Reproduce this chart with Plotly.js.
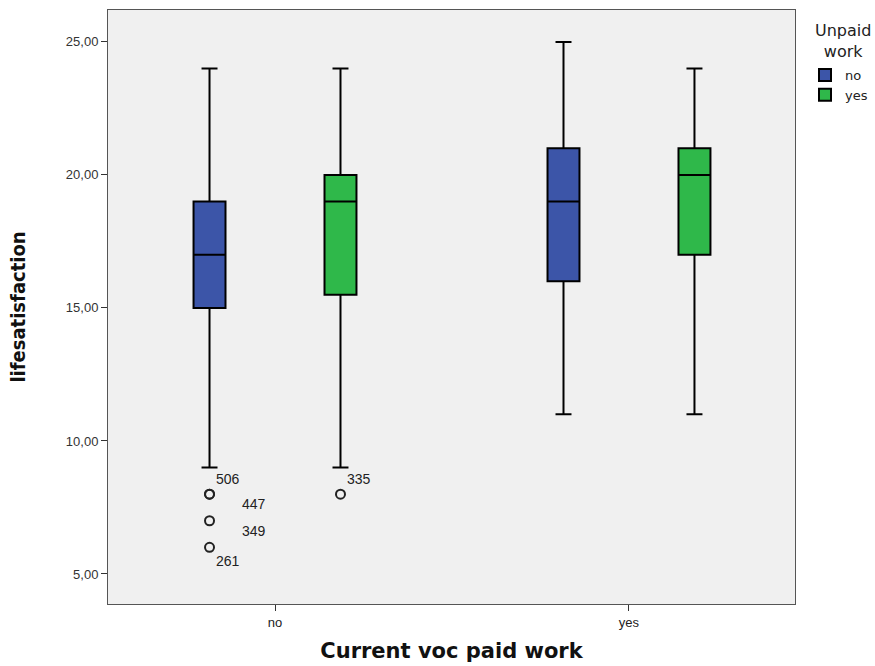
<!DOCTYPE html>
<html><head><meta charset="utf-8">
<script src="https://cdn.plot.ly/plotly-3.0.1.min.js"></script>
<style>body{margin:0;background:#fff}#chart{width:875px;height:666px}</style>
</head><body><div id="chart"></div>
<script>
// Data
var paidCategories = ["no", "yes"];
var unpaidGroups = ["no", "yes"];
// per unpaid group: values for paid = no, yes
var lowerWhisker = { no: [9, 11], yes: [9, 11] };
var q1Values     = { no: [15, 16], yes: [15.5, 17] };
var medianValues = { no: [17, 19], yes: [19, 20] };
var q3Values     = { no: [19, 21], yes: [20, 21] };
var upperWhisker = { no: [24, 25], yes: [24, 24] };
// outliers (paid = no)
var outlierValues = { no: [8, 8, 7, 6], yes: [8] };
var outlierIds    = { no: ["506", "447", "349", "261"], yes: ["335"] };
var yTicks = [5, 10, 15, 20, 25];

var colors = { no: "#3C55A8", yes: "#2FB84A" };
var groupOffset = { no: -0.185, yes: 0.185 };
var labelShift = { no: [[18, 15], [44, -10], [44, -10], [18, -14]], yes: [[19, 15]] };

var traces = unpaidGroups.map(function (g) {
  return {
    type: "box",
    name: g,
    x: paidCategories,
    q1: q1Values[g], median: medianValues[g], q3: q3Values[g],
    lowerfence: lowerWhisker[g], upperfence: upperWhisker[g],
    fillcolor: colors[g],
    line: { color: "#000", width: 2 },
    whiskerwidth: 0.5,
    boxpoints: false,
    hoverinfo: "skip"
  };
});

var annotations = [];
unpaidGroups.forEach(function (g) {
  var xs = outlierValues[g].map(function () { return 0 + groupOffset[g]; });
  traces.push({
    type: "scatter", mode: "markers", xaxis: "x2", yaxis: "y",
    x: xs, y: outlierValues[g], showlegend: false, hoverinfo: "skip",
    marker: { symbol: "circle-open", size: 9, color: "#222", line: { width: 2, color: "#222" } }
  });
  outlierValues[g].forEach(function (v, i) {
    annotations.push({
      xref: "x2", yref: "y", x: xs[i], y: v, text: outlierIds[g][i],
      showarrow: false, xshift: labelShift[g][i][0], yshift: labelShift[g][i][1],
      font: { family: "Liberation Sans, Arial, sans-serif", size: 14, color: "#222" }
    });
  });
});

annotations.push({
  xref: "paper", yref: "paper", x: 1.0 + 48 / 687, y: 1 - 9 / 594, xanchor: "center", yanchor: "top",
  text: "Unpaid<br>work", showarrow: false, align: "center",
  font: { family: "DejaVu Sans, sans-serif", size: 16, color: "#222" }
});

var xr = [-0.4718, 1.469];
var layout = {
  width: 875, height: 666,
  margin: { l: 108, r: 80, t: 10, b: 62, autoexpand: false },
  paper_bgcolor: "#fff", plot_bgcolor: "#F0F0F0",
  separators: ",.",
  boxmode: "group", boxgap: 0.26, boxgroupgap: 0.756,
  font: { family: "Liberation Sans, Arial, sans-serif", color: "#222" },
  xaxis: {
    type: "category", range: xr, showgrid: false, zeroline: false,
    showline: true, linecolor: "#555", linewidth: 1, mirror: true,
    ticks: "outside", ticklen: 6, tickcolor: "#333", tickwidth: 1,
    tickfont: { size: 13, color: "#222" },
    title: { text: "Current voc paid work", standoff: 14, font: { size: 21, color: "#111", family: "DejaVu Sans, sans-serif", weight: "bold" } }
  },
  xaxis2: { overlaying: "x", range: xr, visible: false, fixedrange: true },
  yaxis: {
    range: [3.87, 26.2], tickvals: yTicks, tickformat: ".2f",
    showgrid: false, zeroline: false,
    showline: true, linecolor: "#555", linewidth: 1, mirror: true,
    ticks: "outside", ticklen: 6, tickcolor: "#333", tickwidth: 1,
    tickfont: { size: 13, color: "#333" },
    title: { text: "lifesatisfaction", standoff: 34, font: { size: 20, color: "#111", family: "DejaVu Sans Condensed, DejaVu Sans, sans-serif", weight: "bold" } }
  },
  showlegend: true,
  legend: {
    x: 1.0 + 10 / 687, xanchor: "left", y: 1 - 50 / 594, yanchor: "top",
    bgcolor: "rgba(0,0,0,0)",
    font: { size: 13, color: "#222", family: "DejaVu Sans, sans-serif" },
    itemwidth: 30, tracegroupgap: 0
  },
  annotations: annotations
};

Plotly.newPlot("chart", traces, layout, { displayModeBar: false, staticPlot: true });
</script>
</body></html>
